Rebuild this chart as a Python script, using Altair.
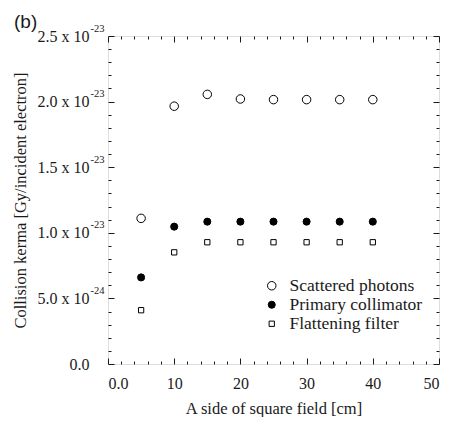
import altair as alt
import pandas as pd

# ---- data ----
field_cm = [5, 10, 15, 20, 25, 30, 35, 40]
scattered = [1.11e-23, 1.965e-23, 2.055e-23, 2.02e-23, 2.015e-23, 2.015e-23, 2.015e-23, 2.015e-23]
primary = [0.66e-23, 1.047e-23, 1.085e-23, 1.085e-23, 1.085e-23, 1.085e-23, 1.085e-23, 1.085e-23]
flattening = [0.41e-23, 0.851e-23, 0.928e-23, 0.928e-23, 0.928e-23, 0.928e-23, 0.928e-23, 0.928e-23]

series_names = ["Scattered photons", "Primary collimator", "Flattening filter"]
series_shapes = ["circle", "circle", "square"]
series_fills = ["white", "black", "white"]
series_strokes = ["black", "black", "black"]
series_sizes = [72, 28, 115]

x_major = [0, 10, 20, 30, 40, 50]
x_minor = [i * 2 for i in range(26)]
y_major = [0, 5e-24, 1e-23, 1.5e-23, 2e-23, 2.5e-23]
y_minor = [round(i * 1e-24, 30) for i in range(26)]
y_main_labels = ["0.0", "5.0 x 10", "1.0 x 10", "1.5 x 10", "2.0 x 10", "2.5 x 10"]
y_sup_labels = ["", "-24", "-23", "-23", "-23", "-23"]

rows = []
for name, vals in zip(series_names, [scattered, primary, flattening]):
    for xv, yv in zip(field_cm, vals):
        rows.append({"x": xv, "y": yv, "series": name})
df = pd.DataFrame(rows)

W, H = 331, 328
FONT = "Liberation Serif, 'Times New Roman', Times, serif"
SANS = "Liberation Sans, Arial, sans-serif"
INK = "#1a1a1a"

xs = alt.Scale(domain=[0, 50], nice=False, zero=False)
ys = alt.Scale(domain=[0, 2.5e-23], nice=False, zero=False)

def js_list(lst):
    return "[" + ",".join("'" + s + "'" for s in lst) + "]"

main_expr = js_list(y_main_labels) + "[round(datum.value/5e-24)]"
sup_expr = js_list(y_sup_labels) + "[round(datum.value/5e-24)]"

x_tick_size = {"condition": {"test": "datum.value % 10 === 0", "value": 6}, "value": 3}
y_tick_size = {"condition": {"test": "abs(datum.value/5e-24 - round(datum.value/5e-24)) < 0.01", "value": 6}, "value": 3}

base = alt.Chart(df)

tick_common = dict(labels=False, domain=False, grid=False, title=None, tickColor=INK, tickWidth=1)

# Layer: inward ticks at bottom (x) and superscripts on left (y)
layer_a = base.mark_point(opacity=0).encode(
    x=alt.X("x:Q", scale=xs, axis=alt.Axis(orient="top", offset=-H, values=x_minor,
                                            tickSize=x_tick_size, **tick_common)),
    y=alt.Y("y:Q", scale=ys, axis=alt.Axis(orient="left", values=y_major, labelExpr=sup_expr,
                                            ticks=False, domain=False, grid=False, title=None,
                                            labelFont=FONT, labelFontSize=10.5, labelColor=INK,
                                            labelPadding=4, labelOffset=-8)),
)

# Layer: inward ticks at top (x) and left (y)
layer_b = base.mark_point(opacity=0).encode(
    x=alt.X("x:Q", scale=xs, axis=alt.Axis(orient="bottom", offset=-H, values=x_minor,
                                            tickSize=x_tick_size, **tick_common)),
    y=alt.Y("y:Q", scale=ys, axis=alt.Axis(orient="right", offset=-W, values=y_minor,
                                            tickSize=y_tick_size, **tick_common)),
)

# Layer: inward ticks at right (y)
layer_c = base.mark_point(opacity=0).encode(
    x=alt.X("x:Q", scale=xs, axis=None),
    y=alt.Y("y:Q", scale=ys, axis=alt.Axis(orient="left", offset=-W, values=y_minor,
                                            tickSize=y_tick_size, **tick_common)),
)

legend_cfg = alt.Legend(title=None, orient="none", legendX=155, legendY=241,
                        labelFont=FONT, labelFontSize=17.5, labelColor=INK,
                        rowPadding=0, labelOffset=9, symbolStrokeWidth=1, padding=0)

points = base.mark_point(filled=True, strokeWidth=1, opacity=1).encode(
    x=alt.X("x:Q", scale=xs, axis=alt.Axis(orient="bottom", values=x_major,
                                            labelExpr="datum.value === 0 ? '0.0' : datum.label",
                                            ticks=False, domain=False, grid=False,
                                            labelFont=FONT, labelFontSize=16, labelColor=INK,
                                            labelPadding=11,
                                            title="A side of square field [cm]",
                                            titleFont=FONT, titleFontSize=16.5,
                                            titleFontWeight="normal", titleColor=INK,
                                            titlePadding=9)),
    y=alt.Y("y:Q", scale=ys, axis=alt.Axis(orient="left", values=y_major, labelExpr=main_expr,
                                            ticks=False, domain=False, grid=False,
                                            labelFont=FONT, labelFontSize=16, labelColor=INK,
                                            labelPadding=19,
                                            title="Collision kerma [Gy/incident electron]",
                                            titleFont=FONT, titleFontSize=16.5,
                                            titleFontWeight="normal", titleColor=INK,
                                            titlePadding=9)),
    shape=alt.Shape("series:N", scale=alt.Scale(domain=series_names, range=series_shapes), legend=legend_cfg),
    fill=alt.Fill("series:N", scale=alt.Scale(domain=series_names, range=series_fills), legend=legend_cfg),
    stroke=alt.Stroke("series:N", scale=alt.Scale(domain=series_names, range=series_strokes), legend=legend_cfg),
    size=alt.Size("series:N", scale=alt.Scale(domain=series_names, range=series_sizes), legend=legend_cfg),
)

chart = alt.layer(layer_a, layer_b, layer_c, points).resolve_axis(
    x="independent", y="independent"
).properties(
    width=W, height=H,
    autosize=alt.AutoSizeParams(type="none"),
    padding={"left": 100, "top": 28, "right": 6, "bottom": 53},
    title=alt.TitleParams("(b)", anchor="start", frame="group", dx=-94, offset=-9,
                          font=SANS, fontSize=19, fontWeight="normal",
                          color=INK),
).configure_view(stroke=INK, strokeWidth=1).configure(background="white")

chart.save("out.html", embed_options={"renderer": "svg", "actions": False})
